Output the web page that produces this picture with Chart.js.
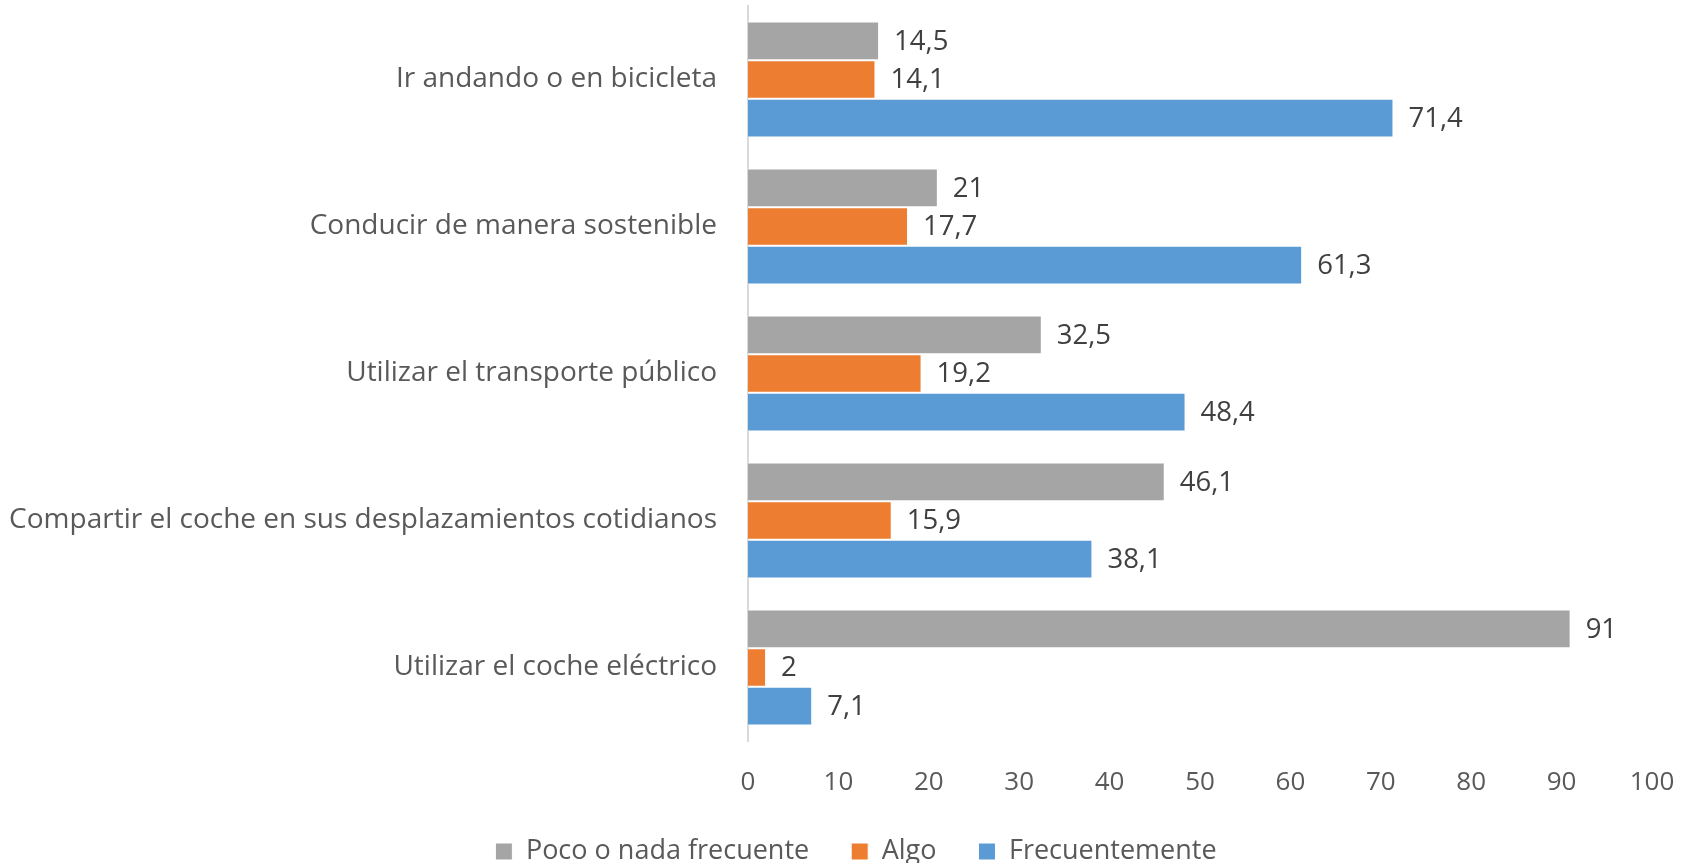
<!DOCTYPE html>
<html>
<head>
<meta charset="utf-8">
<script src="https://cdn.jsdelivr.net/npm/chart.js@4"></script>
<style>
  html, body { margin: 0; padding: 0; background: #fff; }
  #wrap { width: 1703px; height: 863px; }
</style>
</head>
<body>
<div id="wrap"><canvas id="chartMovilidad"></canvas></div>
<script>
const categorias = [
    'Ir andando o en bicicleta',
    'Conducir de manera sostenible',
    'Utilizar el transporte público',
    'Compartir el coche en sus desplazamientos cotidianos',
    'Utilizar el coche eléctrico'
];
const pocoONada = [14.5, 21, 32.5, 46.1, 91];
const algo = [14.1, 17.7, 19.2, 15.9, 2];
const frecuentemente = [71.4, 61.3, 48.4, 38.1, 7.1];
const ticksX = [0, 10, 20, 30, 40, 50, 60, 70, 80, 90, 100];

const FUENTE = "'Open Sans', 'Noto Sans', sans-serif";

// etiquetas de valor al final de cada barra (coma decimal)
const etiquetasValor = {
    id: 'etiquetasValor',
    afterDatasetsDraw(chart) {
        const ctx = chart.ctx;
        ctx.save();
        ctx.font = '27.5px ' + FUENTE;
        ctx.fillStyle = '#404040';
        ctx.textAlign = 'left';
        ctx.textBaseline = 'middle';
        chart.data.datasets.forEach((ds, i) => {
            chart.getDatasetMeta(i).data.forEach((bar, j) => {
                const txt = String(ds.data[j]).replace('.', ',');
                ctx.fillText(txt, bar.x + 15, bar.y + 1);
            });
        });
        ctx.restore();
    }
};

// la leyenda del original está algo desplazada a la derecha
const moverLeyenda = {
    id: 'moverLeyenda',
    afterLayout(chart) {
        if (chart.legend) chart.legend.left += 60;
    }
};

new Chart(document.getElementById('chartMovilidad'), {
    type: 'bar',
    data: {
        labels: categorias,
        datasets: [
            { label: 'Poco o nada frecuente', data: pocoONada, backgroundColor: '#A5A5A5' },
            { label: 'Algo', data: algo, backgroundColor: '#ED7D31' },
            { label: 'Frecuentemente', data: frecuentemente, backgroundColor: '#5B9BD5' }
        ].map(d => Object.assign(d, {
            borderColor: '#ffffff',
            borderWidth: 1,
            borderSkipped: 'start',
            categoryPercentage: 0.79,
            barPercentage: 1
        }))
    },
    options: {
        indexAxis: 'y',
        responsive: true,
        maintainAspectRatio: false,
        animation: false,
        layout: { padding: { top: 6, right: 51, left: 0, bottom: -12 } },
        plugins: {
            legend: {
                position: 'bottom',
                labels: {
                    font: { family: FUENTE, size: 27 },
                    color: '#595959',
                    boxWidth: 17,
                    boxHeight: 17,
                    padding: 42
                }
            },
            tooltip: { enabled: false }
        },
        scales: {
            x: {
                min: 0,
                max: 100,
                afterBuildTicks: axis => { axis.ticks = ticksX.map(v => ({ value: v })); },
                afterFit: axis => {
                    axis.height = 55;
                    axis.paddingLeft = 0;
                    axis.paddingRight = 0;
                },
                grid: { display: false, drawTicks: false },
                border: { display: false },
                ticks: {
                    padding: 29,
                    color: '#595959',
                    font: { family: FUENTE, size: 26, lineHeight: 1 }
                }
            },
            y: {
                afterFit: axis => {
                    axis.width = 748;
                    axis.paddingTop = 0;
                    axis.paddingBottom = 0;
                },
                grid: { display: false, drawTicks: false },
                border: { display: true, color: '#D9D9D9', width: 2 },
                ticks: {
                    padding: 31,
                    color: '#595959',
                    font: { family: FUENTE, size: 28 }
                }
            }
        }
    },
    plugins: [etiquetasValor, moverLeyenda]
});
</script>
</body>
</html>
